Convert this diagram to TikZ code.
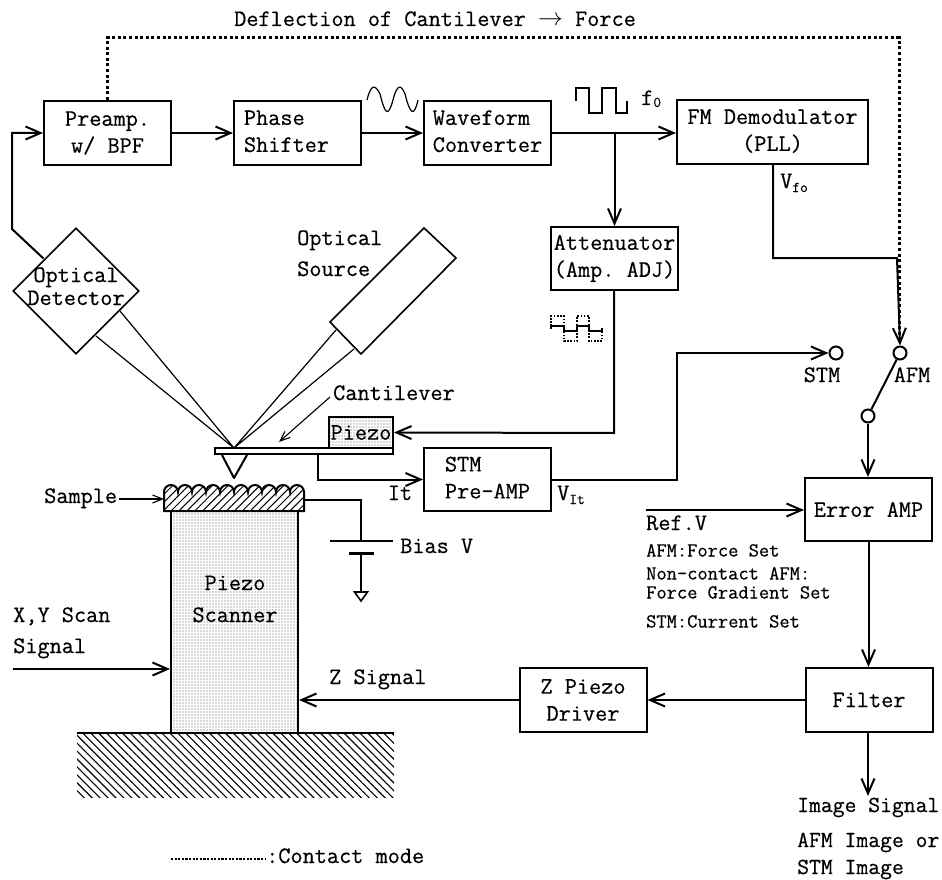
\documentclass[tikz,border=0pt]{standalone}
\usepackage{fontspec}
\setmonofont[FakeBold=0.45]{Latin Modern Mono}
\usetikzlibrary{arrows.meta,patterns.meta,shapes.geometric}
\newcommand{\mainfs}{\fontsize{23.6}{27}\selectfont\ttfamily\bfseries}
\newcommand{\smallfs}{\fontsize{19.9}{23}\selectfont\ttfamily\bfseries}
\newcommand{\subfs}{\fontsize{15}{15}\selectfont\ttfamily\bfseries}
\tikzset{
 >={Straight Barb[length=15pt,width=13pt,line width=2pt]},
 wire/.style={line width=2pt,line join=miter},
 thin wire/.style={line width=1.2pt},
 thin arrow/.style={line width=1.1pt,-{Straight Barb[length=10pt,width=8pt,line width=1.1pt]}},
 dotwire/.style={line width=3pt,dash pattern=on 3pt off 2.6pt},
 blockbox/.style={draw,line width=2pt,inner sep=0pt,minimum width=127pt,minimum height=64pt,align=center,font=\mainfs},
 lab/.style={anchor=west,inner sep=0pt,font=\mainfs,text height=15pt,text depth=5pt},
 slab/.style={anchor=west,inner sep=0pt,font=\smallfs,text height=13pt,text depth=4pt},
 ctr/.style={inner sep=0pt,font=\mainfs,text height=15pt,text depth=5pt},
 stipple/.style={pattern={Dots[radius=0.6pt,distance=3pt]},pattern color=black!65},
 terminal/.style={circle,draw,line width=2pt,inner sep=0pt,minimum size=13pt,fill=white},
}
\begin{document}
\begin{tikzpicture}[x=1pt,y=-1pt]
\useasboundingbox[fill=white] (0,0) rectangle (942,880);

% Block boxes
\node[blockbox] (pre) at (107.5,133) {Preamp.\\w/ BPF};
\node[blockbox] (phase) at (297.5,133) {\hspace{-22pt}\begin{tabular}{@{}l@{}}Phase\\Shifter\end{tabular}};
\node[blockbox] (wave) at (487.5,133) {\begin{tabular}{@{}l@{}}Waveform\\Converter\end{tabular}};
\node[blockbox,minimum width=191pt] (fm) at (772.5,132) {\raisebox{2pt}{\begin{tabular}{@{}c@{}}FM Demodulator\\(PLL)\end{tabular}}};
\node[blockbox,minimum height=63pt] (att) at (614.5,258.5) {Attenuator\\(Amp. ADJ)};
\node[blockbox,minimum height=63pt] (stm) at (487.5,479.5) {\begin{tabular}{@{}l@{}}STM\\Pre-AMP\end{tabular}};
\node[blockbox,minimum height=63pt] (err) at (868.5,509.5) {Error AMP};
\node[blockbox] (filter) at (869,700) {Filter};
\node[blockbox] (zdrv) at (583,700) {Z Piezo\\Driver};

% Optical parts
\node[diamond,draw,line width=1.6pt,inner sep=0pt,minimum width=126pt,minimum height=126pt] (det) at (76,291) {};
\node[ctr] (detA) at (76,277) {Optical};
\node[ctr] (detB) at (76,300) {Detector};
\coordinate (focus) at (234,448);
\coordinate (detIn) at (43.5,258.5);
\coordinate (detUp) at (12,229);
\coordinate (beamA) at (120,311);
\coordinate (beamB) at (96,336);
\coordinate (srcA) at (336,330);
\coordinate (srcB) at (354,349);
\draw[line width=1.6pt] (424,228) coordinate (s1) -- (456,258) coordinate (s2) -- (361,354) coordinate (s3) -- (330,322) coordinate (s4) -- cycle;
\draw[thin wire] (beamA) -- (focus) (beamB) -- (focus) (srcA) -- (focus) (srcB) -- (focus);
\node[lab] (optA) at (297,240) {Optical};
\node[lab] (optB) at (297,271) {Source};

% Top connectors
\draw[wire,->] (detIn) -- (detUp) |- (pre.west);
\draw[wire,->] (pre.east) -- (phase.west);
\draw[wire,->] (phase.east) -- (wave.west);
\draw[wire,->] (wave.east) -- (fm.west |- wave.east);
\coordinate (tap) at (614.5,133);
\draw[wire,->] (tap) -- (att.north);

% Switch
\node[terminal] (tstm) at (836,353) {};
\node[terminal] (tafm) at (900,353) {};
\node[terminal] (tout) at (868,416) {};
\draw[wire] (tafm) -- (tout);
\node[ctr] (lstm) at (822,377) {STM};
\node[ctr] (lafm) at (912,377) {AFM};

% Deflection path
\coordinate (dotA) at (107,38);
\coordinate (dotB) at (899,38);
\draw[dotwire] (pre.north -| dotA) -- (dotA) -- (dotB) -- (899,340);
\coordinate (vfoA) at (773,258);
\coordinate (vfoB) at (897,258);
\draw[wire,->] (fm.south -| vfoA) -- (vfoA) -- (vfoB) -- (tafm.north);
\node[lab] (defl) at (234,21) {Deflection of Cantilever $\rightarrow$ Force};

% Signals
\draw[line width=1.2pt] (367,100) .. controls (371,84) and (375,84) .. (380,94) .. controls (385,114) and (388,118) .. (393,100) .. controls (397,84) and (401,84) .. (405,94) .. controls (410,114) and (414,118) .. (418,100);
\draw[line width=1.2pt] (576,101) -- (576,88) -- (589,88) -- (589,113) -- (602,113) -- (602,88) -- (616,88) -- (616,113) -- (627,113) -- (627,101);
\node[lab] (f0) at (641,100) {f\raisebox{-2pt}{\subfs 0}};
\node[lab] (vfo) at (780,183) {V\raisebox{-4pt}{\subfs fo}};
\draw[line width=1.2pt,dash pattern=on 1.6pt off 1.6pt] (551,326) -- (551,316) -- (564,316) -- (564,341) -- (577,341) -- (577,316) -- (589,316) -- (589,341) -- (602,341) -- (602,331);
\draw[line width=1.4pt] (551,329) -- (551,326) -- (564,326) -- (564,331) -- (577,331) -- (577,326) -- (589,326) -- (589,331) -- (602,331) -- (602,328);

% Cantilever, piezo
\draw[line width=2pt,fill=white] (215,448) rectangle (393,454);
\coordinate (cantL) at (215,448);
\node[draw,line width=2pt,stipple,inner sep=0pt,minimum width=64pt,minimum height=31pt,font=\mainfs] (piezo) at (361,432.5) {Piezo};
\draw[line width=2pt,fill=white,line join=round] (222,455) -- (234,478) -- (247,455);
\coordinate (attTap) at (614,433);
\draw[wire,->] (att.south -| attTap) -- (attTap) -- (piezo.east);
\coordinate (cantD) at (318,454);
\draw[wire,->] (cantD) |- (stm.west);
\node[ctr] (it) at (400,495) {It};
\node[lab] (cantlab) at (333,395) {Cantilever};
\coordinate (cantTip) at (279,442);
\draw[thin arrow] (330,397) -- (cantTip);

% STM output
\node[lab] (vit) at (557,495) {V\raisebox{-4pt}{\subfs It}};
\coordinate (stmA) at (677,479.5);
\coordinate (stmB) at (677,353);
\draw[wire,->] (stm.east) -- (stmA) -- (stmB) -- (tstm.west);

% Right column
\draw[wire,->] (tout) -- (err.north -| tout);
\coordinate (refV) at (646,510);
\draw[wire,->] (refV) -- (err.west |- refV);
\node[lab] (refl) at (646,525) {Ref.V};
\node[slab] (s1t) at (646,552) {AFM:Force Set};
\node[slab] (s2t) at (646,575) {Non-contact AFM:};
\node[slab] (s3t) at (646,594) {Force Gradient Set};
\node[slab] (s4t) at (646,623) {STM:Current Set};
\draw[wire,->] (err.south) -- (err.south |- filter.north);
\draw[wire,->] (filter.west) -- (zdrv.east);
\coordinate (imgEnd) at (868,796);
\draw[wire,->] (filter.south -| imgEnd) -- (imgEnd);
\node[lab,font=\fontsize{23}{27}\selectfont\ttfamily\bfseries] (img) at (797,807) {Image Signal};
\node[lab,font=\fontsize{23}{27}\selectfont\ttfamily\bfseries] (imgA) at (797,842) {AFM Image or};
\node[lab,font=\fontsize{23}{27}\selectfont\ttfamily\bfseries] (imgB) at (797,869) {STM Image};

% Scanner, sample, base
\fill[pattern={Lines[angle=-45,distance=5.6pt,line width=1.1pt]}] (77,733) rectangle (394,797);
\draw[line width=2pt] (77,733) coordinate (baseL) -- (394,733) coordinate (baseR);
\node[draw,line width=2pt,stipple,inner sep=0pt,minimum width=127pt,minimum height=222pt] (scan) at (234.5,622) {};
\node[ctr] (scanA) at (235,585) {Piezo};
\node[ctr] (scanB) at (235,617) {Scanner};
\draw[line width=2pt,pattern={Lines[angle=45,distance=5.6pt,line width=1pt]}] (164,511) -- (164,492) \foreach \i in {0,...,9}{ arc[start angle=180,end angle=360,radius=7] } -- (304,511) -- cycle;
\coordinate (samL) at (164,499);
\coordinate (samR) at (304,500);
\node[lab] (samlab) at (44,498) {Sample};
\draw[thin arrow] (samlab.east) ++(2,1) -- (samL);
\coordinate (biasT) at (361,500);
\coordinate (plateA) at (361,541);
\coordinate (plateB) at (361,553);
\coordinate (gnd) at (361,592);
\draw[wire] (samR) -- (biasT) -- (plateA) (plateB) -- (gnd);
\draw[wire] (330,541) -- (393,541);
\draw[line width=3pt] (349,553) -- (374,553);
\draw[line width=1.6pt,fill=white] (gnd) ++(-6.5,0) -- ++(13,0) -- ++(-6.5,9) -- cycle;
\node[lab] (bias) at (400,548) {Bias V};
\node[lab] (xy1) at (13,617) {X,Y Scan};
\node[lab] (xy2) at (13,648) {Signal};
\coordinate (xyS) at (13,669);
\draw[wire,->] (xyS) -- (xyS -| scan.west);
\draw[wire,->] (zdrv.west) -- (zdrv.west -| scan.east);
\node[lab] (zs) at (329,679) {Z Signal};

% Legend
\coordinate (legA) at (171,859);
\coordinate (legB) at (265,859);
\draw[line width=1.6pt,dash pattern=on 2.2pt off 1.4pt] (legA) -- (legB);
\node[lab] (leg) at (266,858) {:Contact mode};
\end{tikzpicture}
\end{document}
